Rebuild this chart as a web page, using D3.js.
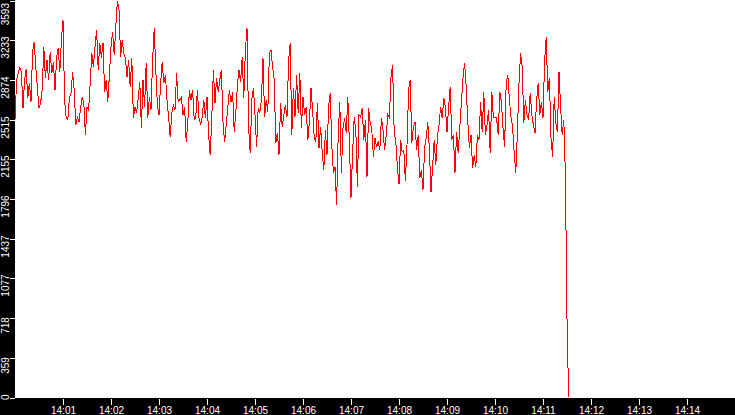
<!DOCTYPE html>
<html lang="en">
<head>
    <meta charset="UTF-8">
    <title>Rate</title>
    <style>
        html, body { margin: 0; padding: 0; background: #000; overflow: hidden; }
        svg { display: block; }
        text { font-family: "Liberation Sans", Arial, sans-serif; font-size: 10px; fill: #fff; }
    </style>
</head>
<body>
    <div id="chart"></div>
    <script src="https://d3js.org/d3.v7.min.js"></script>
    <script>
        // samples every 2 seconds starting at 14:00:00
        var startTime = "14:00:00";
        var stepSeconds = 2;
        var values = [
            2512,2874,2937,2983,2946,2621,2874,2974,2711,2847,2675,3127,3218,2992,2802,2621,2666,2784,3173,2892,
            3055,2874,3127,2937,3037,2784,3073,3164,2946,3236,3417,2693,2530,2512,2711,2756,2946,2784,2467,2539,
            2494,2621,2720,2666,2376,2630,2603,2847,3118,2992,
            3173,3326,2965,3209,3073,3209,2765,2874,2675,2919,3173,3308,3100,3354,3590,3507,3082,3236,3118,3073,
            2901,3055,2811,3073,2530,2630,2575,2711,2856,2440,2874,2630,3028,2530,2720,2603,3055,3345,2965,2648,
            2557,2847,3037,2847,2919,2693,2539,2358,2575,2648,
            2603,2937,2675,2693,2720,2557,2630,2313,2494,2784,2693,2784,2512,2539,2784,2530,2467,2539,2693,2530,
            2720,2376,2195,2539,2965,2666,2892,2765,2874,2965,2494,2313,2467,2630,2784,2675,2765,2403,2575,2829,
            2965,2856,3082,2711,3145,3345,2449,2213,2693,2802,
            2557,2268,2621,2575,2693,3073,2539,2693,2584,3118,3145,2992,2874,2304,2394,2195,2666,2449,2557,2648,
            2539,3055,3209,2376,2802,2539,2919,2575,2937,2440,2720,2557,2630,2331,2494,2802,2603,2358,2313,2666,
            2259,2449,2222,2060,2422,2195,2630,2756,2286,2032,
            2087,1743,2376,2675,2032,2440,2530,2394,2720,2304,1806,2213,2539,2422,1906,2557,2539,2621,2331,2512,
            2000,2621,2485,2422,2177,2349,2268,2313,2240,2530,2422,2240,2376,2557,2530,2901,3010,2403,2313,2087,
            1930,2331,2222,2240,1960,2286,2784,2874,2304,2449,
            2494,2240,2376,1987,2060,1878,2259,2349,2494,2240,1860,2087,2331,2105,2358,2467,2630,2530,2711,2630,
            2403,2630,2811,2331,2376,2032,2403,2213,2440,2675,2892,3028,2811,2494,2259,2376,2078,2195,2087,2376,
            2331,2675,2403,2765,2376,2467,2603,2213,2765,2530,
            2539,2530,2376,2765,2675,2440,2268,2847,2919,2693,2539,2449,2213,2032,2403,2847,3118,2992,2485,2693,
            2557,2512,2756,2557,2467,2394,2693,2847,2557,2675,2530,3037,3263,2765,2892,2349,2177,2720,2485,2403,
            2946,2630,2376,2512,2014,715,0
        ];
        var yMax = 3593;
        var yTickLabels = ["0", "359", "718", "1077", "1437", "1796", "2155", "2515", "2874", "3233", "3593"];
        var xTickLabels = ["14:01", "14:02", "14:03", "14:04", "14:05", "14:06", "14:07",
                           "14:08", "14:09", "14:10", "14:11", "14:12", "14:13", "14:14"];
        var endTime = "14:15:00";

        var width = 735;
        var height = 415;
        var plotLeft = 15;
        var plotBottom = 398;

        var svg = d3.select("#chart")
                    .append("svg")
                    .attr("width", width)
                    .attr("height", height);

        svg.append("rect")
           .attr("width", width)
           .attr("height", height)
           .attr("fill", "#000");

        svg.append("rect")
           .attr("x", plotLeft)
           .attr("y", 0)
           .attr("width", width - plotLeft)
           .attr("height", plotBottom)
           .attr("fill", "#fff");

        var parseFull = d3.timeParse("%H:%M:%S");
        var parseMin = d3.timeParse("%H:%M");
        var t0 = parseFull(startTime);

        var x = d3.scaleTime()
                  .domain([t0, parseFull(endTime)])
                  .range([plotLeft, width]);

        var y = d3.scaleLinear()
                  .domain([0, yMax])
                  .range([397.5, 0.5]);

        var line = d3.line()
                     .x(function(d, i) { return x(new Date(t0.getTime() + i * stepSeconds * 1000)); })
                     .y(function(d) { return y(d); });

        svg.append("path")
           .datum(values)
           .attr("d", line)
           .attr("fill", "none")
           .attr("stroke", "#ff0000")
           .attr("stroke-width", 1)
           .attr("shape-rendering", "crispEdges");

        // bottom axis
        var xAxis = d3.axisBottom(x)
                      .tickValues(xTickLabels.map(function(s) { return parseMin(s); }))
                      .tickFormat(d3.timeFormat("%H:%M"))
                      .tickSize(6)
                      .tickPadding(2);

        var gx = svg.append("g")
                    .attr("transform", "translate(0," + (plotBottom + 1) + ")")
                    .call(xAxis);
        gx.select(".domain").remove();
        gx.selectAll("line").attr("stroke", "#fff");
        gx.selectAll("text")
          .attr("fill", "#fff")
          .style("font-family", "'Liberation Sans', Arial, sans-serif")
          .style("font-size", "10px");

        // left axis, labels rotated and kept inside the strip
        var gy = svg.append("g");
        yTickLabels.forEach(function(lbl) {
            var ty = Math.round(y(+lbl)) + 0.5;
            gy.append("line")
              .attr("x1", 10).attr("x2", plotLeft)
              .attr("y1", ty).attr("y2", ty)
              .attr("stroke", "#fff");
            var t = gy.append("text")
                      .attr("text-anchor", "middle")
                      .text(lbl);
            var len = t.node().getComputedTextLength();
            var cy = Math.max(3 + len / 2, Math.min(400 - len / 2, ty + 7));
            t.attr("transform", "translate(9," + cy + ") rotate(-90)");
        });
    </script>
</body>
</html>
